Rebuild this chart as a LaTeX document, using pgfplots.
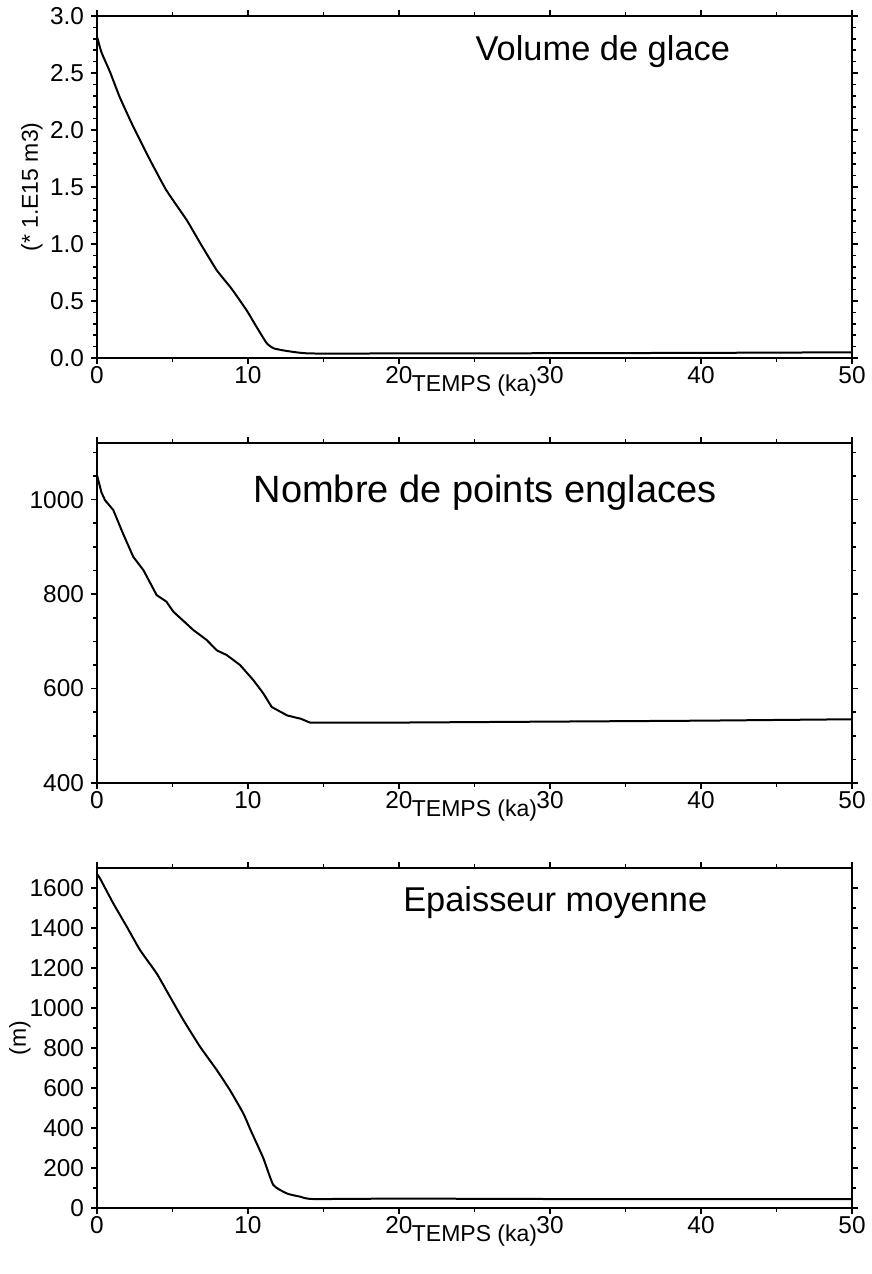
\documentclass[border=0pt]{standalone}
\usepackage{fontspec}
\setmainfont{Liberation Sans}
\usepackage{pgfplots}
\pgfplotsset{compat=1.18}
\begin{document}
\begin{tikzpicture}
\pgfplotsset{
  every axis/.append style={
    scale only axis,
    width=377.5bp,
    xmin=0, xmax=50,
    xtick={0,10,20,30,40,50},
    minor x tick num=1,
    tick align=outside,
    xtick pos=both, ytick pos=both,
    xticklabel pos=bottom, yticklabel pos=left,
    major tick length=3bp, minor tick length=1.8bp,
    axis line style={line width=1.4bp},
    every tick/.style={black, line width=0.8bp},
    tick label style={font=\fontsize{12.2bp}{14bp}\selectfont},
    xticklabel style={yshift=2.5bp},
    label style={font=\fontsize{11.5bp}{13bp}\selectfont},
    /pgf/number format/assume math mode=true,
    /pgf/number format/1000 sep={},
    xlabel={TEMPS (ka)},
    xlabel style={at={(axis description cs:0.5,0)}, anchor=north, yshift=-5bp},
  },
}
\path[use as bounding box] (0,0) rectangle (436bp,-637bp);

% Panel 1
\begin{axis}[at={(48.5bp,-179bp)}, anchor=south west, height=171bp,
  ymin=0, ymax=3, ytick={0,0.5,1,1.5,2,2.5,3}, minor y tick num=4,
  yticklabel style={/pgf/number format/.cd, fixed, fixed zerofill, precision=1},
  ylabel={(* 1.E15 m3)},
  ylabel style={at={(axis description cs:-0.0861,0.5)}, anchor=center},
]
\addplot[black, line width=1bp, smooth, tension=0.3] coordinates {
(0,2.82)(0.3,2.68)(0.86,2.51)(1.5,2.29)(2.4,2.03)(3.5,1.74)(4.6,1.47)(5.94,1.21)(6.87,1.0)(7.93,0.77)(8.9,0.61)(9.9,0.42)(10.58,0.27)(11.24,0.13)(11.7,0.085)(12.56,0.062)(14.1,0.04)(20,0.04)(30,0.042)(40,0.045)(50,0.05)
};
\node[font=\fontsize{17.2bp}{20bp}\selectfont, anchor=base] at (rel axis cs:0.670,0.869) {Volume de glace};
\end{axis}

% Panel 2
\begin{axis}[at={(48.5bp,-391.5bp)}, anchor=south west, height=170bp,
  ymin=400, ymax=1120, ytick={400,600,800,1000}, minor ytick={450,500,550,650,700,750,850,900,950,1050,1100},
]
\addplot[black, line width=1bp] coordinates {
(0,1052)(0.3,1015)(0.53,999)(1.08,978)(1.7,930)(2.4,879)(3.07,851)(3.95,798)(4.6,784)(5.05,763)(6.38,724)(7.26,703)(7.93,681)(8.59,671)(9.47,650)(10.35,618)(11.01,590)(11.57,561)(12.6,543)(13.5,536)(14.1,528)(20,528)(30,530)(40,532)(50,535)
};
\node[font=\fontsize{19bp}{22bp}\selectfont, anchor=base] at (rel axis cs:0.514,0.824) {Nombre de points englaces};
\end{axis}

% Panel 3
\begin{axis}[at={(48.5bp,-604bp)}, anchor=south west, height=170bp,
  ymin=0, ymax=1700, ytick={0,200,400,600,800,1000,1200,1400,1600}, minor y tick num=1,
  ylabel={(m)},
  ylabel style={at={(axis description cs:-0.102,0.5)}, anchor=center},
]
\addplot[black, line width=1bp, smooth, tension=0.3] coordinates {
(0,1670)(0.2,1648)(1.08,1523)(1.97,1407)(2.85,1290)(3.95,1173)(4.83,1057)(5.72,940)(6.82,807)(7.93,690)(8.8,590)(9.69,473)(10.2,385)(11.01,250)(11.68,115)(12.6,72)(13.44,57)(14.3,45)(20,47)(30,45)(40,44)(50,45)
};
\node[font=\fontsize{17.2bp}{20bp}\selectfont, anchor=base] at (rel axis cs:0.607,0.871) {Epaisseur moyenne};
\end{axis}
\end{tikzpicture}
\end{document}
